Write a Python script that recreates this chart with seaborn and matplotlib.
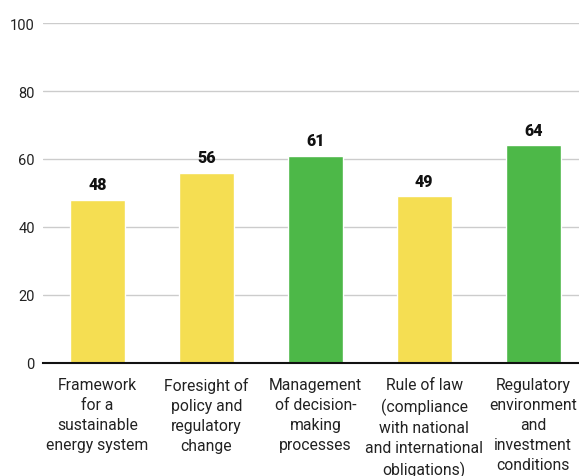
import matplotlib
matplotlib.use("Agg")
import matplotlib.pyplot as plt
import seaborn as sns
import pandas as pd

categories = [
    "Framework\nfor a\nsustainable\nenergy system",
    "Foresight of\npolicy and\nregulatory\nchange",
    "Management\nof decision-\nmaking\nprocesses",
    "Rule of law\n(compliance\nwith national\nand international\nobligations)",
    "Regulatory\nenvironment\nand\ninvestment\nconditions",
]
values = [48, 56, 61, 49, 64]
groups = ["low", "low", "high", "low", "high"]
palette = {"low": "#F5DE52", "high": "#4DB848"}
yticks = [0, 20, 40, 60, 80, 100]

sns.set_theme(style="white")
plt.rcParams["font.family"] = ["Roboto", "DejaVu Sans"]

df = pd.DataFrame({"cat": categories, "val": values, "grp": groups})

fig = plt.figure(figsize=(5.79, 4.77), dpi=100)
ax = fig.add_axes([43/579, 1-364/477, 1-43/579, (364-24)/477])
sns.barplot(data=df, x="cat", y="val", hue="grp", palette=palette,
            dodge=False, width=0.505, legend=False, ax=ax, saturation=1)

ax.set_ylim(0, 100)
ax.set_xlim(-0.5, 4.42)
ax.set_yticks(yticks)
ax.set_yticklabels([str(t) for t in yticks], fontsize=10.5, color="#222222")
ax.yaxis.grid(True, color="#CCCCCC", linewidth=1.0)
ax.set_axisbelow(True)
for s in ["left", "right", "top"]:
    ax.spines[s].set_visible(False)
ax.spines["bottom"].set_color("#111111")
ax.spines["bottom"].set_linewidth(1.5)
ax.tick_params(axis="y", length=0, pad=6)
ax.tick_params(axis="x", length=0, pad=10)
ax.set_xlabel("")
ax.set_ylabel("")
for lbl in ax.get_xticklabels():
    lbl.set_fontsize(11.3)
    lbl.set_color("#222222")
    lbl.set_linespacing(1.42)
    lbl.set_verticalalignment("top")

for i, v in enumerate(values):
    ax.text(i, v + 2.2, str(v), ha="center", va="bottom", fontsize=11.5,
            fontweight="black", color="#111111")

fig.savefig("out.png", dpi=100)
